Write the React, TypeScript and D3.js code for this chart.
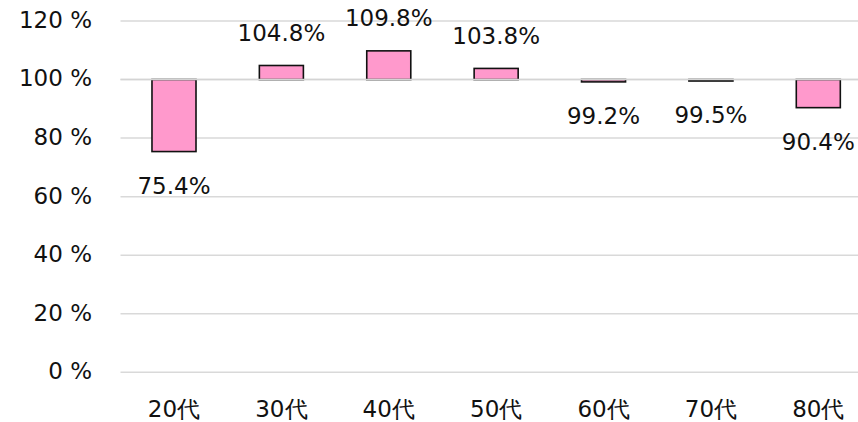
import React from "react";
import * as d3 from "d3";

const categories = ["20代", "30代", "40代", "50代", "60代", "70代", "80代"];
const values = [75.4, 104.8, 109.8, 103.8, 99.2, 99.5, 90.4];
const baseValue = 100;
const yTicks = [0, 20, 40, 60, 80, 100, 120];

const W = 858;
const H = 422;

export default function App() {
  const x = d3
    .scaleBand<string>()
    .domain(categories)
    .range([120.3, 872])
    .paddingInner(0.59)
    .paddingOuter(0.295);
  const y = d3.scaleLinear().domain([0, 120]).range([372.3, 21]);
  const font = "'DejaVu Sans', Verdana, sans-serif";
  const fs = 23;

  return (
    <svg
      width={W}
      height={H}
      style={{ position: "absolute", left: 0, top: 0, display: "block" }}
      fontFamily={font}
    >
      <rect width={W} height={H} fill="#fff" />
      {yTicks.map((t) => (
        <line
          key={"g" + t}
          x1={120.5}
          x2={W}
          y1={y(t)}
          y2={y(t)}
          stroke="#d9d9d9"
          strokeWidth={1.5}
        />
      ))}
      {yTicks.map((t) => (
        <text
          key={"yl" + t}
          x={92}
          y={y(t)}
          dy="0.3em"
          textAnchor="end"
          fontSize={fs}
          fill="#111"
        >
          {t} %
        </text>
      ))}
      {categories.map((c, i) => {
        const v = values[i];
        const top = y(Math.max(v, baseValue));
        const bot = y(Math.min(v, baseValue));
        return (
          <rect
            key={"b" + c}
            x={x(c)}
            y={top}
            width={x.bandwidth()}
            height={Math.max(bot - top, 0.5)}
            fill="#ff99cc"
            stroke="#111"
            strokeWidth={1.6}
          />
        );
      })}
      <line
        x1={120.5}
        x2={W}
        y1={y(baseValue)}
        y2={y(baseValue)}
        stroke="#d4d4d4"
        strokeWidth={1.5}
      />
      {categories.map((c, i) => {
        const v = values[i];
        const cx = (x(c) as number) + x.bandwidth() / 2;
        const ly = v >= baseValue ? y(v) - 33 : y(v) + 34;
        return (
          <text
            key={"l" + c}
            x={cx}
            y={ly}
            dy="0.36em"
            textAnchor="middle"
            fontSize={fs}
            fill="#111"
          >
            {v.toFixed(1)}%
          </text>
        );
      })}
      {categories.map((c) => (
        <text
          key={"x" + c}
          x={(x(c) as number) + x.bandwidth() / 2}
          y={417}
          textAnchor="middle"
          fontSize={fs}
          fill="#111"
        >
          {c}
        </text>
      ))}
    </svg>
  );
}
